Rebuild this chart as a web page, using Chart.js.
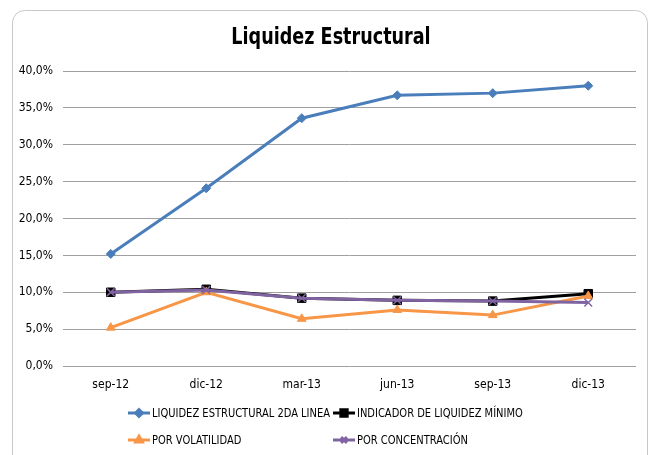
<!DOCTYPE html>
<html>
<head>
<meta charset="utf-8">
<script src="https://cdn.jsdelivr.net/npm/chart.js@4/dist/chart.umd.min.js"></script>
<style>
  html, body { margin: 0; padding: 0; background: #fff; }
  #wrap { width: 652px; height: 455px; position: relative; }
</style>
</head>
<body>
<div id="wrap"><canvas id="liqChart" width="652" height="455"></canvas></div>
<script>
const categories = ["sep-12", "dic-12", "mar-13", "jun-13", "sep-13", "dic-13"];
const liquidez2da = [15.2, 24.1, 33.6, 36.7, 37.0, 38.0];
const indicadorMin = [10.0, 10.4, 9.2, 8.9, 8.8, 9.8];
const porVolatilidad = [5.2, 10.0, 6.4, 7.6, 6.9, 9.5];
const porConcentracion = [10.0, 10.3, 9.2, 8.9, 8.8, 8.6];
const yTicks = [0, 5, 10, 15, 20, 25, 30, 35, 40];

const FONT = "'DejaVu Sans Condensed', 'DejaVu Sans', sans-serif";

// order: lower number is painted on top
const seriesList = [
    { label: "LIQUIDEZ ESTRUCTURAL 2DA LINEA", data: liquidez2da, color: "#4a7ebb", point: "rectRot", radius: 4.5, order: 0 },
    { label: "INDICADOR DE LIQUIDEZ MÍNIMO", data: indicadorMin, color: "#000000", point: "rect", radius: 6, order: 3 },
    { label: "POR VOLATILIDAD", data: porVolatilidad, color: "#f79646", point: "triangle", radius: 5, order: 2 },
    { label: "POR CONCENTRACIÓN", data: porConcentracion, color: "#8064a2", point: "crossRot", radius: 5.5, order: 1 }
];

// frame + title + two-column legend like the Excel original
const decor = {
    id: "decor",
    beforeDraw(chart) {
        const c = chart.ctx;
        c.save();
        c.strokeStyle = "#c8c8c8";
        c.lineWidth = 1;
        c.beginPath();
        c.roundRect(12.5, 10.5, 635, 470, 12);
        c.stroke();
        c.restore();
    },
    afterDraw(chart) {
        const c = chart.ctx;
        c.save();
        c.fillStyle = "#000";
        c.font = "bold 23px " + FONT;
        c.textAlign = "center";
        c.textBaseline = "middle";
        c.save();
        c.translate(331, 38);
        c.scale(0.85, 1);
        c.fillText("Liquidez Estructural", 0, 0);
        c.restore();

        c.font = "12px " + FONT;
        c.textAlign = "left";
        const cols = [128, 333];
        const rows = [413, 440];
        seriesList.forEach((s, i) => {
            const x = cols[i % 2], y = rows[Math.floor(i / 2)];
            c.strokeStyle = s.color;
            c.fillStyle = s.color;
            c.lineWidth = 3;
            c.beginPath();
            c.moveTo(x, y);
            c.lineTo(x + 22, y);
            c.stroke();
            Chart.helpers.drawPoint(c, {
                pointStyle: s.point, radius: s.radius * 0.75, rotation: 0, borderWidth: 1.5
            }, x + 11, y);
            c.fillStyle = "#000";
            c.save();
            c.translate(x + 24, y + 1);
            c.scale(0.92, 1);
            c.fillText(s.label, 0, 0);
            c.restore();
        });
        c.restore();
    }
};

new Chart(document.getElementById("liqChart"), {
    type: "line",
    data: {
        labels: categories,
        datasets: seriesList.map(s => ({
            label: s.label,
            data: s.data,
            order: s.order,
            borderColor: s.color,
            backgroundColor: s.color,
            borderWidth: 3,
            pointStyle: s.point,
            pointRadius: s.radius,
            pointBorderWidth: s.point === "crossRot" ? 1.5 : 1,
            pointBorderColor: s.color,
            pointBackgroundColor: s.color,
            tension: 0
        }))
    },
    options: {
        responsive: false,
        animation: false,
        layout: { padding: { left: 14, right: 16, top: 71, bottom: 59 } },
        plugins: {
            legend: { display: false },
            title: { display: false },
            tooltip: { enabled: false }
        },
        scales: {
            x: {
                offset: true,
                grid: { display: false },
                border: { display: false },
                ticks: { color: "#000", font: { family: FONT, size: 12 }, padding: 4 },
                afterFit(scale) { scale.height = 30; }
            },
            y: {
                min: 0,
                max: 40,
                afterBuildTicks(scale) { scale.ticks = yTicks.map(v => ({ value: v })); },
                grid: { color: "#a0a0a0", lineWidth: 1, drawTicks: false },
                border: { display: false },
                ticks: {
                    color: "#000",
                    font: { family: FONT, size: 12 },
                    padding: 10,
                    callback: v => v.toFixed(1).replace(".", ",") + "%"
                },
                afterFit(scale) { scale.width = 49; }
            }
        }
    },
    plugins: [decor]
});
</script>
</body>
</html>
